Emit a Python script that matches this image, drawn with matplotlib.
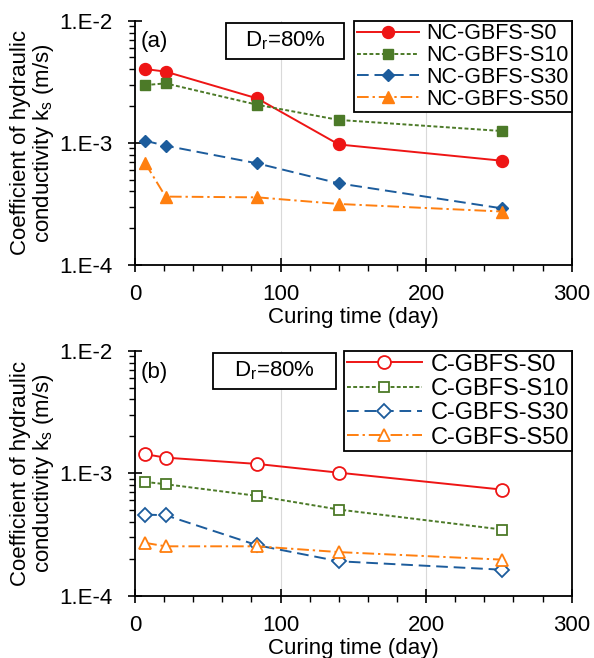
import matplotlib
matplotlib.use('Agg')
import matplotlib.pyplot as plt
from matplotlib.ticker import FixedLocator, FixedFormatter, MultipleLocator, NullFormatter
from matplotlib.patches import Rectangle

plt.rcParams['font.family'] = ['Liberation Sans', 'DejaVu Sans']
plt.rcParams['mathtext.fontset'] = 'custom'
plt.rcParams['mathtext.rm'] = 'Liberation Sans'
plt.rcParams['mathtext.it'] = 'Liberation Sans'
plt.rcParams['mathtext.default'] = 'regular'

# Curing time (day)
days = [7, 21, 84, 140, 252]

# (a) non-cemented specimens, hydraulic conductivity (m/s)
nc_labels = ['NC-GBFS-S0', 'NC-GBFS-S10', 'NC-GBFS-S30', 'NC-GBFS-S50']
nc_s0 = [4.02e-3, 3.83e-3, 2.31e-3, 0.97e-3, 0.714e-3]
nc_s10 = [2.97e-3, 3.07e-3, 2.05e-3, 1.54e-3, 1.25e-3]
nc_s30 = [1.04e-3, 0.948e-3, 0.679e-3, 0.466e-3, 0.291e-3]
nc_s50 = [0.682e-3, 0.363e-3, 0.358e-3, 0.316e-3, 0.274e-3]

# (b) cemented specimens, hydraulic conductivity (m/s)
c_labels = ['C-GBFS-S0', 'C-GBFS-S10', 'C-GBFS-S30', 'C-GBFS-S50']
c_s0 = [1.43e-3, 1.34e-3, 1.19e-3, 1.01e-3, 0.735e-3]
c_s10 = [0.849e-3, 0.813e-3, 0.653e-3, 0.505e-3, 0.347e-3]
c_s30 = [0.459e-3, 0.454e-3, 0.258e-3, 0.191e-3, 0.163e-3]
c_s50 = [0.27e-3, 0.253e-3, 0.253e-3, 0.227e-3, 0.197e-3]

y_ticks = [1e-4, 1e-3, 1e-2]
y_ticklabels = ['1.E-4', '1.E-3', '1.E-2']
x_ticks = [0, 100, 200, 300]

RED = '#EE1515'
GREEN = '#4C7A28'
BLUE = '#1C5C9C'
ORANGE = '#FF7F0F'

styles = [
    dict(color=RED, linestyle='-', marker='o', ms=8.6),
    dict(color=GREEN, linestyle=(0, (2, 1.2)), marker='s', ms=6.8),
    dict(color=BLUE, linestyle=(0, (6, 3)), marker='D', ms=6.3),
    dict(color=ORANGE, linestyle=(0, (6, 2, 1.2, 2)), marker='^', ms=8.0),
]

FS = 16

fig = plt.figure(figsize=(5.94, 6.58), dpi=100)
ax1 = fig.add_axes([135 / 594, 1 - 265 / 658, 436.7 / 594, 244.3 / 658])
ax2 = fig.add_axes([135 / 594, 1 - 595.7 / 658, 436.7 / 594, 245 / 658])


def draw_panel(ax, series, labels, hollow, tag, box, leg_fs, leg_spacing, handle_len):
    for vals, lab, st in zip(series, labels, styles):
        kw = dict(color=st['color'], linestyle=st['linestyle'], marker=st['marker'],
                  markersize=st['ms'] * (1.08 if hollow else 1.0), linewidth=1.4,
                  label=lab, zorder=3)
        if hollow:
            kw.update(markerfacecolor='white', markeredgecolor=st['color'], markeredgewidth=1.3)
        else:
            kw.update(markerfacecolor=st['color'], markeredgecolor=st['color'])
        ax.plot(days, vals, **kw)

    ax.set_yscale('log')
    ax.set_ylim(1e-4, 1e-2)
    ax.set_xlim(0, 300)

    ax.yaxis.set_major_locator(FixedLocator(y_ticks))
    ax.yaxis.set_major_formatter(FixedFormatter(y_ticklabels))
    ax.yaxis.set_minor_formatter(NullFormatter())
    ax.xaxis.set_major_locator(FixedLocator(x_ticks))
    ax.xaxis.set_minor_locator(MultipleLocator(20))

    ax.tick_params(axis='both', which='major', direction='inout', length=10,
                   width=1.2, labelsize=FS, color='black')
    ax.tick_params(axis='y', which='major', pad=11.5)
    ax.tick_params(axis='x', which='major', pad=9)
    ax.tick_params(axis='both', which='minor', direction='out', length=4,
                   width=1.0, color='black')
    ax.tick_params(right=False, top=False, which='both')

    ax.spines['top'].set_visible(False)
    for s in ('left', 'bottom', 'right'):
        ax.spines[s].set_linewidth(1.3)
        ax.spines[s].set_color('black')

    for gx in (100, 200):
        ax.axvline(gx, color='#D9D9D9', linewidth=0.8, zorder=0)

    ax.set_xlabel('Curing time (day)', fontsize=FS, labelpad=1)
    ax.set_ylabel('Coefficient of hydraulic\nconductivity k$_s$ (m/s)', fontsize=FS,
                  linespacing=1.0)
    ax.yaxis.set_label_coords(-0.18, 0.5)

    ax.text(0.014, 0.913, tag, transform=ax.transAxes, fontsize=FS,
            ha='left', va='center')

    x0, x1, y0, y1 = box
    ax.add_patch(Rectangle((x0, y0), x1 - x0, y1 - y0, transform=ax.transAxes,
                           facecolor='white', edgecolor='black', linewidth=1.3,
                           zorder=4, clip_on=False))
    ax.text((x0 + x1) / 2, (y0 + y1) / 2, 'D$_r$=80%', transform=ax.transAxes,
            fontsize=FS, ha='center', va='center', zorder=5)

    leg = ax.legend(loc='upper right', bbox_to_anchor=(1.0, 1.0), borderaxespad=0,
                    fontsize=leg_fs, handlelength=handle_len, handletextpad=0.35,
                    labelspacing=leg_spacing, borderpad=0.12, fancybox=False,
                    edgecolor='black', framealpha=1)
    leg.get_frame().set_linewidth(1.3)
    leg.set_zorder(6)


draw_panel(ax1, [nc_s0, nc_s10, nc_s30, nc_s50], nc_labels, False, '(a)',
           (0.208, 0.479, 0.843, 0.991), 15.5, 0.04, 2.9)
draw_panel(ax2, [c_s0, c_s10, c_s30, c_s50], c_labels, True, '(b)',
           (0.179, 0.460, 0.844, 0.992), 17, 0.1, 3.2)

fig.savefig('out.png', dpi=100)
